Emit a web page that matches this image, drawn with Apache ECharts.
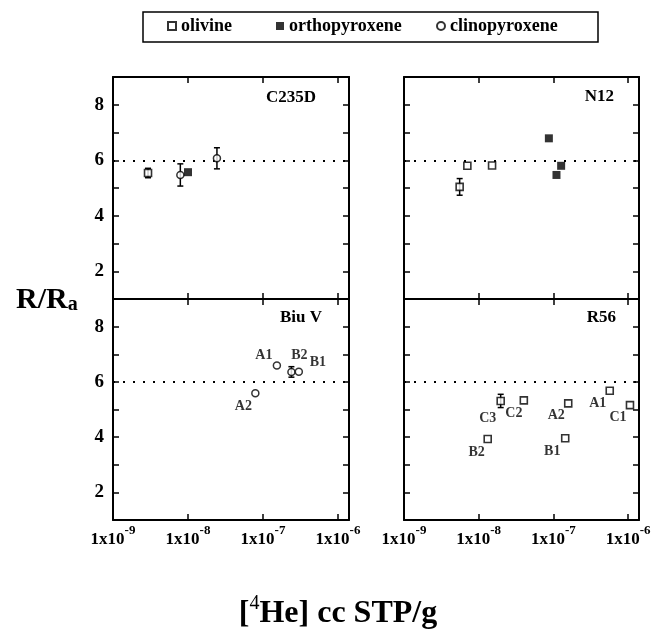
<!DOCTYPE html>
<html>
<head>
<meta charset="utf-8">
<script src="https://cdn.jsdelivr.net/npm/echarts@6/dist/echarts.min.js"></script>
<style>
  html, body { margin: 0; padding: 0; background: #fff; }
  #chart { width: 656px; height: 631px; }
</style>
</head>
<body>
<div id="chart"></div>
<script>
// ---- data: [4He] (cc STP/g) and R/Ra for each sample ----
const c235dOlivine = [[2.93e-9, 5.54]];
const c235dOpx = [[1.0e-8, 5.57]];
const c235dCpx = [[7.9e-9, 5.47], [2.43e-8, 6.07]];
const c235dErrors = [[2.93e-9, 5.54, 0.17], [7.9e-9, 5.47, 0.40], [2.43e-8, 6.07, 0.38]];

const n12Olivine = [[5.56e-9, 5.04], [7.05e-9, 5.80], [1.51e-8, 5.81]];
const n12Opx = [[8.7e-8, 6.79], [1.1e-7, 5.47], [1.27e-7, 5.80]];
const n12Errors = [[5.56e-9, 5.04, 0.30]];

const biuNames = ['A1', 'B2', 'B1', 'A2'];
const biuCpx = [[1.53e-7, 6.59], [2.39e-7, 6.36], [3.0e-7, 6.37], [7.9e-8, 5.59]];
const biuErrors = [[2.39e-7, 6.36, 0.19]];

const r56Names = ['C3', 'C2', 'A2', 'A1', 'C1', 'B2', 'B1'];
const r56Olivine = [[1.97e-8, 5.31], [4.02e-8, 5.33], [1.58e-7, 5.22], [5.68e-7, 5.68],
                    [1.06e-6, 5.16], [1.32e-8, 3.93], [1.44e-7, 3.96]];
const r56Errors = [[1.97e-8, 5.31, 0.24]];

const panelTitles = ['C235D', 'N12', 'Biu V', 'R56'];
const mineralNames = ['olivine', 'orthopyroxene', 'clinopyroxene'];
const atmosphericRatio = 6;

// ---- layout & style ----
const FONT = '"Liberation Serif","Times New Roman",serif';
const X_MIN = 1e-9, X_MAX = 1.4e-6, Y_MIN = 1, Y_MAX = 9;

const grids = [
  { left: 113, top: 77, width: 236, height: 222 },
  { left: 404, top: 77, width: 235, height: 222 },
  { left: 113, top: 299, width: 236, height: 221 },
  { left: 404, top: 299, width: 235, height: 221 }
];
const titleAnchors = [[316, 98], [614, 97], [322, 318], [616, 318]];

// label offsets (px) relative to the symbol centre
const labelPlacement = {
  biu: { A1: [-13, -10], B2: [8, -17], B1: [19, -9], A2: [-12, 13] },
  r56: { C3: [-13, 17], C2: [-10, 13], A2: [-12, 12], A1: [-12, 13], C1: [-12, 12], B2: [-11, 13], B1: [-13, 13] }
};

const symbolStyles = {
  olivine: { symbol: 'rect', symbolSize: 7, itemStyle: { color: '#fff', borderColor: '#000', borderWidth: 1.6 } },
  orthopyroxene: { symbol: 'rect', symbolSize: 8, itemStyle: { color: '#000', borderColor: '#000', borderWidth: 0 } },
  clinopyroxene: { symbol: 'circle', symbolSize: 7, itemStyle: { color: '#fff', borderColor: '#000', borderWidth: 1.5 } }
};

const xAxes = [], yAxes = [];
grids.forEach((g, i) => {
  const isBottom = i >= 2;
  const base = {
    type: 'log', logBase: 10, min: X_MIN, max: X_MAX, gridIndex: i,
    axisLine: { show: true, lineStyle: { color: '#000', width: 2 } },
    axisTick: { show: true, inside: true, length: 6, lineStyle: { color: '#000', width: 1.5 } },
    splitLine: { show: false }
  };
  xAxes.push(Object.assign({}, base, {
    position: 'bottom',
    axisLabel: {
      show: isBottom, margin: 4,
      formatter: v => {
        const e = Math.log10(v);
        const r = Math.round(e);
        if (Math.abs(e - r) > 1e-6) return '';
        return '{m|1x10}{e|' + r + '}';
      },
      rich: {
        m: { fontFamily: FONT, fontWeight: 'bold', fontSize: 17, color: '#000', lineHeight: 24, verticalAlign: 'bottom' },
        e: { fontFamily: FONT, fontWeight: 'bold', fontSize: 13, color: '#000', lineHeight: 13, verticalAlign: 'top' }
      }
    }
  }));
  xAxes.push(Object.assign({}, base, { position: 'top', axisLabel: { show: false } }));

  const yBase = {
    type: 'value', min: Y_MIN, max: Y_MAX, interval: 1, gridIndex: i,
    axisLine: { show: true, lineStyle: { color: '#000', width: 2 } },
    axisTick: { show: true, inside: true, length: 6, lineStyle: { color: '#000', width: 1.5 } },
    splitLine: { show: false }
  };
  yAxes.push(Object.assign({}, yBase, {
    position: 'left',
    axisLabel: {
      show: i % 2 === 0, margin: 9,
      fontFamily: FONT, fontWeight: 'bold', fontSize: 19, color: '#000',
      formatter: v => (v % 2 === 0 && v > Y_MIN && v < Y_MAX) ? String(v) : ''
    }
  }));
  yAxes.push(Object.assign({}, yBase, { position: 'right', axisLabel: { show: false } }));
});

function refLine() {
  return {
    silent: true, symbol: ['none', 'none'],
    label: { show: false },
    lineStyle: { type: [2, 8], width: 2, color: '#000' },
    data: [{ yAxis: atmosphericRatio }]
  };
}

function scatter(name, panel, points, names, placement) {
  const st = symbolStyles[name];
  const data = points.map((p, k) => {
    const item = { value: p };
    if (names) {
      const off = placement[names[k]];
      item.name = names[k];
      item.label = { show: true, offset: off };
    }
    return item;
  });
  return {
    type: 'scatter', name: name,
    xAxisIndex: panel * 2, yAxisIndex: panel * 2,
    symbol: st.symbol, symbolSize: st.symbolSize, itemStyle: st.itemStyle,
    z: 5,
    label: {
      show: false, position: 'inside', formatter: p => p.name,
      fontFamily: FONT, fontWeight: 'bold', fontSize: 14, color: '#000'
    },
    emphasis: { disabled: true },
    data: data
  };
}

function errorBars(panel, rows) {
  return {
    type: 'custom', name: 'err' + panel,
    xAxisIndex: panel * 2, yAxisIndex: panel * 2, z: 3, silent: true,
    data: rows.map(r => [r[0], r[1] - r[2], r[1] + r[2]]),
    renderItem: (params, api) => {
      const lo = api.coord([api.value(0), api.value(1)]);
      const hi = api.coord([api.value(0), api.value(2)]);
      const cap = 3;
      const style = { stroke: '#000', lineWidth: 1.5 };
      return {
        type: 'group',
        children: [
          { type: 'line', shape: { x1: lo[0], y1: lo[1], x2: hi[0], y2: hi[1] }, style },
          { type: 'line', shape: { x1: lo[0] - cap, y1: lo[1], x2: lo[0] + cap, y2: lo[1] }, style },
          { type: 'line', shape: { x1: hi[0] - cap, y1: hi[1], x2: hi[0] + cap, y2: hi[1] }, style }
        ]
      };
    }
  };
}

const series = [];
// C235D
const s0 = scatter('olivine', 0, c235dOlivine); s0.markLine = refLine(); series.push(s0);
series.push(scatter('orthopyroxene', 0, c235dOpx));
series.push(scatter('clinopyroxene', 0, c235dCpx));
series.push(errorBars(0, c235dErrors));
// N12
const s1 = scatter('olivine', 1, n12Olivine); s1.markLine = refLine(); series.push(s1);
series.push(scatter('orthopyroxene', 1, n12Opx));
series.push(errorBars(1, n12Errors));
// Biu V
const s2 = scatter('clinopyroxene', 2, biuCpx, biuNames, labelPlacement.biu); s2.markLine = refLine(); series.push(s2);
series.push(errorBars(2, biuErrors));
// R56
const s3 = scatter('olivine', 3, r56Olivine, r56Names, labelPlacement.r56); s3.markLine = refLine(); series.push(s3);
series.push(errorBars(3, r56Errors));

const legendText = { fontFamily: FONT, fontWeight: 'bold', fontSize: 18, color: '#000' };
const legendLefts = [167, 276, 436];
const legends = mineralNames.map((n, k) => ({
  data: [n], left: legendLefts[k], top: 17, padding: 0,
  itemWidth: 8, itemHeight: 8, itemGap: 0, itemTextGap: 9,
  selectedMode: false, textStyle: legendText
}));

const graphics = [
  { type: 'rect', shape: { x: 143, y: 12, width: 455, height: 30 },
    style: { fill: 'none', stroke: '#000', lineWidth: 1.5 } }
];
panelTitles.forEach((t, i) => {
  graphics.push({
    type: 'text', x: titleAnchors[i][0], y: titleAnchors[i][1],
    style: { text: t, textAlign: 'right', textVerticalAlign: 'middle',
             font: 'bold 17px ' + FONT, fill: '#000' }
  });
});
graphics.push({
  type: 'text', x: 16, y: 285,
  style: {
    text: '{m|R/R}{s|a}', textAlign: 'left', textVerticalAlign: 'top',
    rich: {
      m: { fontFamily: FONT, fontWeight: 'bold', fontSize: 30, lineHeight: 30, verticalAlign: 'top', fill: '#000' },
      s: { fontFamily: FONT, fontWeight: 'bold', fontSize: 20, lineHeight: 20, padding: [15, 0, 0, 0], verticalAlign: 'bottom', fill: '#000' }
    }
  }
});
graphics.push({
  type: 'text', x: 338, y: 594,
  style: {
    text: '{m|[}{s|4}{m|He] cc STP/g}', textAlign: 'center', textVerticalAlign: 'top',
    rich: {
      m: { fontFamily: FONT, fontWeight: 'bold', fontSize: 32, lineHeight: 36, verticalAlign: 'bottom', fill: '#000' },
      s: { fontFamily: FONT, fontWeight: 'normal', fontSize: 20, lineHeight: 20, verticalAlign: 'top', fill: '#000' }
    }
  }
});

const chart = echarts.init(document.getElementById('chart'), null, { renderer: 'canvas' });
chart.setOption({
  backgroundColor: '#fff',
  animation: false,
  grid: grids,
  xAxis: xAxes,
  yAxis: yAxes,
  legend: legends,
  graphic: graphics,
  series: series
});
</script>
</body>
</html>
